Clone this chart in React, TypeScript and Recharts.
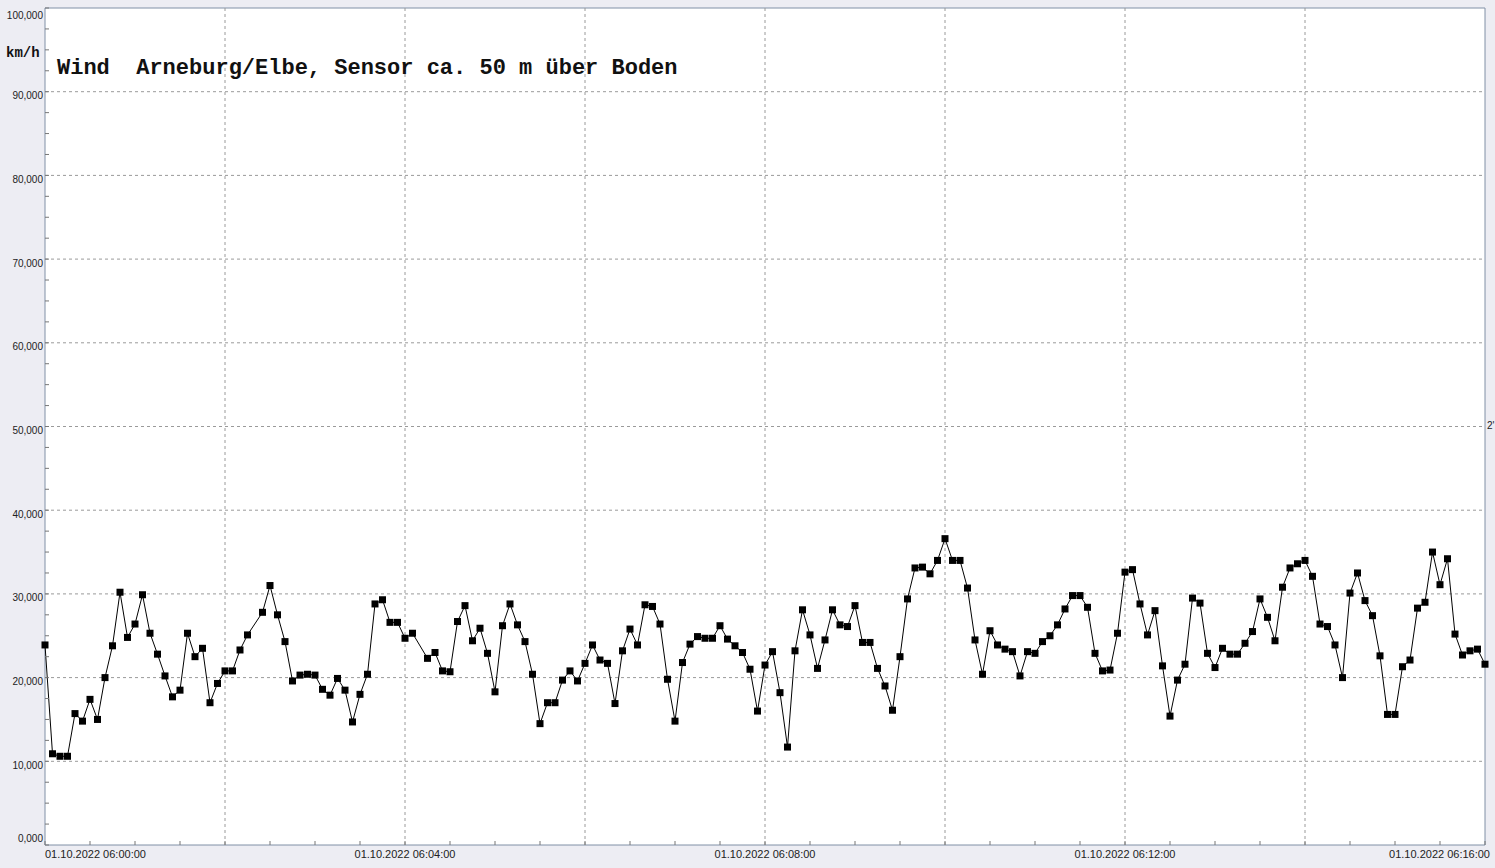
import React from "react";
import { LineChart, Line, XAxis, YAxis, CartesianGrid, ReferenceLine, ReferenceArea } from "recharts";

// seconds after 06:00:00
const seconds = [
  0, 5, 10, 15, 20, 25, 30, 35, 40, 45, 50, 55, 60, 65, 70, 75, 80, 85, 90, 95,
  100, 105, 110, 115, 120, 125, 130, 135, 145, 150, 155, 160, 165, 170, 175, 180, 185, 190,
  195, 200, 205, 210, 215, 220, 225, 230, 235, 240, 245, 255, 260, 265, 270, 275, 280, 285,
  290, 295, 300, 305, 310, 315, 320, 325, 330, 335, 340, 345, 350, 355, 360, 365, 370, 375, 380, 385,
  390, 395, 400, 405, 410, 415, 420, 425, 430, 435, 440, 445, 450, 455, 460, 465, 470, 475, 480,
  485, 490, 495, 500, 505, 510, 515, 520, 525, 530, 535, 540, 545, 550, 555, 560, 565, 570, 575,
  580, 585, 590, 595, 600, 605, 610, 615, 620, 625, 630, 635, 640, 645, 650, 655, 660, 665, 670,
  675, 680, 685, 690, 695, 700, 705, 710, 715, 720, 725, 730, 735, 740, 745, 750, 755, 760, 765, 770,
  775, 780, 785, 790, 795, 800, 805, 810, 815, 820, 825, 830, 835, 840, 845, 850, 855, 860, 865,
  870, 875, 880, 885, 890, 895, 900, 905, 910, 915, 920, 925, 930, 935, 940, 945, 950, 955, 960,
];

const windKmh = [
  23.9, 10.9, 10.6, 10.6, 15.7, 14.8, 17.4, 15.0, 20.0, 23.8, 30.2, 24.8, 26.4, 29.9, 25.3, 22.8, 20.2, 17.7, 18.5, 25.3,
  22.5, 23.5, 17.0, 19.3, 20.8, 20.8, 23.3, 25.1, 27.8, 31.0, 27.5, 24.3, 19.6, 20.3, 20.4, 20.3, 18.6, 17.9,
  19.9, 18.5, 14.7, 18.0, 20.4, 28.8, 29.3, 26.6, 26.6, 24.7, 25.3, 22.3, 23.0, 20.8, 20.7, 26.7, 28.6, 24.4,
  25.9, 22.9, 18.3, 26.2, 28.8, 26.3, 24.3, 20.4, 14.5, 17.0, 17.0, 19.7, 20.8, 19.6, 21.7, 23.9, 22.1, 21.7, 16.9, 23.2,
  25.8, 23.9, 28.7, 28.5, 26.4, 19.8, 14.8, 21.8, 24.0, 24.9, 24.7, 24.7, 26.2, 24.6, 23.8, 23.0, 21.0, 16.0, 21.5,
  23.1, 18.2, 11.7, 23.2, 28.1, 25.1, 21.1, 24.5, 28.1, 26.3, 26.1, 28.6, 24.2, 24.2, 21.1, 19.0, 16.1, 22.5, 29.4,
  33.1, 33.2, 32.4, 34.0, 36.6, 34.0, 34.0, 30.7, 24.5, 20.4, 25.6, 23.9, 23.4, 23.1, 20.2, 23.1, 22.9, 24.3, 25.0,
  26.3, 28.2, 29.8, 29.8, 28.4, 22.9, 20.8, 20.9, 25.3, 32.6, 32.9, 28.8, 25.1, 28.0, 21.4, 15.4, 19.7, 21.6, 29.5, 28.9,
  22.9, 21.2, 23.5, 22.8, 22.8, 24.1, 25.5, 29.4, 27.2, 24.4, 30.8, 33.1, 33.6, 34.0, 32.1, 26.4, 26.1, 23.9, 20.0,
  30.1, 32.5, 29.2, 27.4, 22.6, 15.6, 15.6, 21.3, 22.1, 28.3, 29.0, 35.0, 31.1, 34.2, 25.2, 22.7, 23.2, 23.4, 21.6,
];

const xTickLabels = [
  "01.10.2022  06:00:00",
  "01.10.2022  06:04:00",
  "01.10.2022  06:08:00",
  "01.10.2022  06:12:00",
  "01.10.2022  06:16:00",
];

const xTicks = Array.from({ length: 33 }, (_, i) => i * 30);
const xGrid = [120, 240, 360, 480, 600, 720, 840];
const yTicks = Array.from({ length: 41 }, (_, i) => i * 2.5);
const yGrid = [10, 20, 30, 40, 50, 60, 70, 80, 90];

const data = seconds.map((t, i) => ({ t, v: windKmh[i] }));

const labelFont = "'Liberation Sans', Arial, sans-serif";
const monoFont = "'Liberation Mono', 'Courier New', monospace";

function XTick(props: any) {
  const { x, y, payload } = props;
  const v = payload.value;
  const isLabel = v % 240 === 0;
  let anchor = "middle";
  let dx = 0;
  if (v === 0) anchor = "start";
  if (v === 960) {
    anchor = "end";
    dx = 5;
  }
  return (
    <g>
      <line x1={x} x2={x} y1={y} y2={y - 4} stroke="#777" />
      {isLabel && (
        <text x={x + dx} y={y + 13} textAnchor={anchor} fontSize={11} fontFamily={labelFont} fill="#222">
          {xTickLabels[v / 240]}
        </text>
      )}
    </g>
  );
}

function YTick(props: any) {
  const { x, y, payload } = props;
  const v = payload.value;
  const isLabel = v % 10 === 0;
  let dy = 7.5;
  if (v === 0) dy = -3.5;
  if (v === 100) dy = 10.5;
  return (
    <g>
      <line x1={x} x2={x + 4} y1={y} y2={y} stroke="#777" />
      {isLabel && (
        <text x={x - 2} y={y + dy} textAnchor="end" fontSize={10} fontFamily={labelFont} fill="#222">
          {v.toFixed(3).replace(".", ",")}
        </text>
      )}
    </g>
  );
}

function SquareDot(props: any) {
  const { cx, cy } = props;
  if (cx == null || cy == null) return null;
  return <rect x={cx - 3.5} y={cy - 3.5} width={7} height={7} fill="#000" />;
}

export default function App() {
  return (
    <div style={{ position: "relative", width: 1495, height: 868, background: "#ededf3" }}>
      <style>{`body{margin:0}`}</style>
      <LineChart width={1495} height={868} data={data} margin={{ top: 8, right: 10, left: 0, bottom: 0 }}>
        <CartesianGrid horizontal={false} vertical={false} fill="#ffffff" />
        {yGrid.map((g) => (
          <ReferenceLine key={"y" + g} y={g} stroke="#9a9a9a" strokeDasharray="3 3" />
        ))}
        {xGrid.map((g) => (
          <ReferenceLine key={"x" + g} x={g} stroke="#9a9a9a" strokeDasharray="3 3" />
        ))}
        <ReferenceArea x1={0} x2={960} y1={0} y2={100} fill="none" fillOpacity={0} stroke="#8090a6" />
        <XAxis
          dataKey="t"
          type="number"
          domain={[0, 960]}
          ticks={xTicks}
          interval={0}
          height={23}
          tickSize={0}
          tickMargin={0}
          axisLine={false}
          tickLine={false}
          tick={<XTick />}
        />
        <YAxis
          type="number"
          domain={[0, 100]}
          ticks={yTicks}
          interval={0}
          width={45}
          tickSize={0}
          tickMargin={0}
          axisLine={false}
          tickLine={false}
          tick={<YTick />}
        />
        <Line
          dataKey="v"
          type="linear"
          stroke="#000"
          strokeWidth={1}
          dot={<SquareDot />}
          activeDot={false}
          isAnimationActive={false}
        />
      </LineChart>
      <div
        style={{
          position: "absolute",
          left: 6,
          top: 45,
          fontFamily: monoFont,
          fontWeight: "bold",
          fontSize: 14,
          color: "#111",
          whiteSpace: "pre",
        }}
      >
        km/h
      </div>
      <div
        style={{
          position: "absolute",
          left: 57,
          top: 56,
          fontFamily: monoFont,
          fontWeight: "bold",
          fontSize: 22,
          color: "#111",
          whiteSpace: "pre",
        }}
      >
        Wind  Arneburg/Elbe, Sensor ca. 50 m über Boden
      </div>
      <div
        style={{
          position: "absolute",
          left: 1487,
          top: 420,
          fontFamily: labelFont,
          fontSize: 10,
          color: "#222",
          whiteSpace: "pre",
        }}
      >
        2'
      </div>
    </div>
  );
}
